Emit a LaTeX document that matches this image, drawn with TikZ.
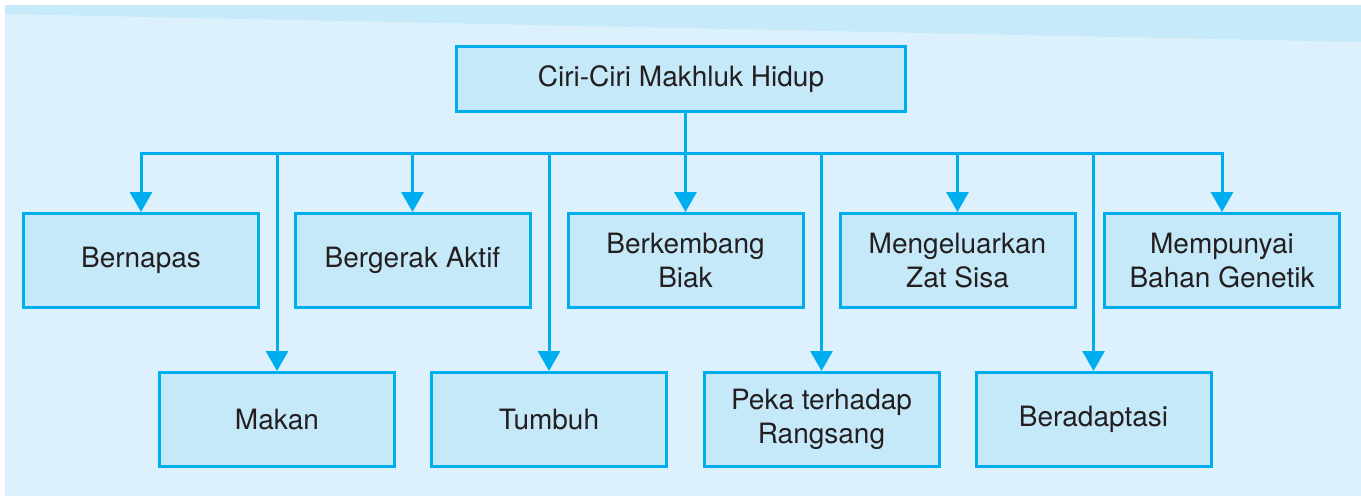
\documentclass[tikz,border=0pt]{standalone}
\usepackage{fontspec}
\setmainfont{TeX Gyre Heros}
\usetikzlibrary{arrows.meta}
\definecolor{latarBiru}{HTML}{DCF1FC}
\definecolor{pitaBiru}{HTML}{C6EAF9}
\definecolor{isiKotak}{HTML}{C6E9F9}
\definecolor{garisBiru}{HTML}{00AEEF}
\definecolor{teksGelap}{HTML}{231F20}

\begin{document}
\begin{tikzpicture}[x=1pt, y=-1pt,
    kotak/.style={draw=garisBiru, fill=isiKotak, line width=3pt, align=center,
                  minimum width=235pt, minimum height=94pt, inner sep=2pt,
                  text=teksGelap, font=\fontsize{28}{34}\selectfont},
    akar/.style={kotak, minimum width=449pt, minimum height=65pt},
    garis/.style={line width=3pt, color=garisBiru},
    panah/.style={garis, -{Triangle[length=20pt, width=22pt]}}]
    \useasboundingbox (0,0) rectangle (1361,496);
    % latar belakang
    \fill[latarBiru] (5,5) rectangle (1361,496);
    \fill[pitaBiru] (5,5) -- (1361,5) -- (1361,42) -- (5,14) -- cycle;
    \node[akar]  (ciri)   at (681,79)     {Ciri-Ciri Makhluk Hidup};
    % baris atas
    \node[kotak] (napas)  at (141,260.5)  {Bernapas};
    \node[kotak] (gerak)  at (412.5,260.5) {Bergerak Aktif};
    \node[kotak] (biak)   at (685.5,260.5) {Berkembang\\Biak};
    \node[kotak] (sisa)   at (957.5,260.5) {Mengeluarkan\\Zat Sisa};
    \node[kotak] (gen)    at (1222,260.5)  {Mempunyai\\Bahan Genetik};
    % baris bawah
    \node[kotak] (makan)  at (277,419.5)   {Makan};
    \node[kotak] (tumbuh) at (549,419.5)   {Tumbuh};
    \node[kotak] (peka)   at (821.5,419.5) {Peka terhadap\\Rangsang};
    \node[kotak] (adapt)  at (1093.5,419.5) {Beradaptasi};
    \coordinate (bus) at (0,153);
    \draw[panah] (ciri.south -| biak.north) -- (biak);
    \draw[panah] (biak.north |- bus) -| (napas);
    \draw[panah] (biak.north |- bus) -| (gen);
    \draw[panah] (gerak.north |- bus) -- (gerak); \draw[panah] (sisa.north |- bus) -- (sisa);
    \draw[panah] (makan.north |- bus) -- (makan); \draw[panah] (tumbuh.north |- bus) -- (tumbuh);
    \draw[panah] (peka.north |- bus) -- (peka); \draw[panah] (adapt.north |- bus) -- (adapt);
\end{tikzpicture}
\end{document}
